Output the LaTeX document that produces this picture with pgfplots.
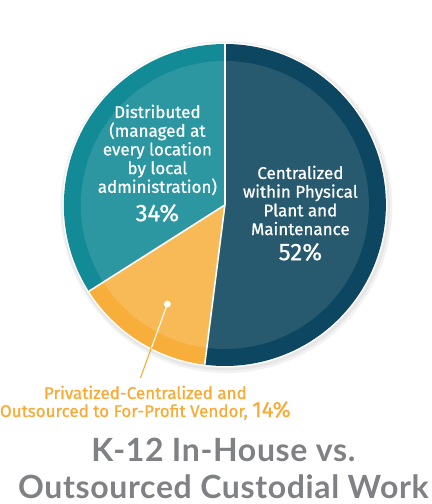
\documentclass[border=0pt]{standalone}
\usepackage{fontspec}
\usepackage{pgfplots}
\usepackage{pgfplotstable}
\pgfplotsset{compat=1.18}

\newfontfamily\labelfont{Fira Sans}[FakeBold=0.8]
\newfontfamily\titlefont{Lato}[LetterSpace=2]

\definecolor{darkrim}{HTML}{0D4660}
\definecolor{darkin}{HTML}{275A6F}
\definecolor{tealrim}{HTML}{138B97}
\definecolor{tealin}{HTML}{2C96A1}
\definecolor{orangerim}{HTML}{F8AE3B}
\definecolor{orangein}{HTML}{F8BA56}
\definecolor{labelorange}{HTML}{F8AA35}
\definecolor{titlegray}{HTML}{808184}

% shares of the pie, clockwise from 12 o'clock
\pgfplotstableread{
share
52
14
34
}\pie

\pgfplotstablegetelem{0}{share}\of\pie \let\sA\pgfplotsretval
\pgfplotstablegetelem{1}{share}\of\pie \let\sB\pgfplotsretval
\pgfplotstablegetelem{2}{share}\of\pie \let\sC\pgfplotsretval
\pgfmathsetmacro\tA{90}
\pgfmathsetmacro\tB{\tA-3.6*\sA}
\pgfmathsetmacro\tC{\tB-3.6*\sB}
\pgfmathsetmacro\tD{\tC-3.6*\sC}

% centre of the pie in axis units (1 unit = 1bp)
\def\cx{221.5}
\def\cy{299}
\newcommand\pieslice[4]{%
  \fill[#3] (axis cs:\cx,\cy) -- ++(#1:161bp) arc[start angle=#1, end angle=#2, radius=161bp] -- cycle;
  \fill[#4] (axis cs:\cx,\cy) -- ++(#1:144bp) arc[start angle=#1, end angle=#2, radius=144bp] -- cycle;
}

\begin{document}
\begin{tikzpicture}
\begin{axis}[
    width=428bp, height=504bp,
    scale only axis,
    xmin=0, xmax=428, ymin=0, ymax=504,
    enlargelimits=false,
    axis lines=none,
    clip=false,
]
\path (axis cs:0,0) rectangle (axis cs:428,504);

% soft shadow and white outline
\fill[black, opacity=0.05] (axis cs:\cx+1.5,\cy-2) circle[radius=166bp];
\fill[black, opacity=0.05] (axis cs:\cx+1,\cy-1.5) circle[radius=164bp];
\fill[white] (axis cs:\cx,\cy) circle[radius=162.5bp];

\pieslice{\tA}{\tB}{darkrim}{darkin}
\pieslice{\tB}{\tC}{orangerim}{orangein}
\pieslice{\tC}{\tD}{tealrim}{tealin}

\draw[white, line width=1.6bp] (axis cs:\cx,\cy) -- ++(\tA:161bp);
\draw[white, line width=1.6bp] (axis cs:\cx,\cy) -- ++(\tB:161bp);
\draw[white, line width=1.6bp] (axis cs:\cx,\cy) -- ++(\tC:161bp);

% leader line for the small slice
\addplot[labelorange, line width=1.1bp] coordinates {(147.9,155.8) (137,126)};
\addplot[white, line width=1.1bp] coordinates {(164,200) (147.9,155.8)};
\addplot[only marks, mark=*, mark size=3.2bp, white] coordinates {(164,200)};

% slice labels
\node[text=white, align=center, inner sep=0, font=\labelfont\fontsize{17bp}{18.7bp}\selectfont]
  at (axis cs:154,354) {Distributed\\(managed at\\every location\\by local\\administration)};
\node[text=white, inner sep=0, font=\labelfont\fontsize{24bp}{26bp}\selectfont]
  at (axis cs:154,291) {34\%};
\node[text=white, align=center, inner sep=0, font=\labelfont\fontsize{17bp}{18.7bp}\selectfont]
  at (axis cs:297,303.5) {Centralized\\within Physical\\Plant and\\Maintenance};
\node[text=white, inner sep=0, font=\labelfont\fontsize{24bp}{26bp}\selectfont]
  at (axis cs:297,252) {52\%};

\node[text=labelorange, anchor=base, inner sep=0, font=\labelfont\fontsize{17bp}{18bp}\selectfont]
  at (axis cs:142,105) {Privatized-Centralized and};
\node[text=labelorange, anchor=base, inner sep=0, font=\labelfont\fontsize{17bp}{18bp}\selectfont]
  at (axis cs:142,87) {Outsourced to For-Profit Vendor, {\fontsize{22bp}{22bp}\selectfont 14\%}};

% title
\node[text=titlegray, anchor=base, inner sep=0, font=\titlefont\bfseries\fontsize{32bp}{34bp}\selectfont]
  at (axis cs:220,42) {K-12 In-House vs.};
\node[text=titlegray, anchor=base, inner sep=0, font=\titlefont\bfseries\fontsize{32bp}{34bp}\selectfont]
  at (axis cs:220,6) {Outsourced Custodial Work};
\end{axis}
\end{tikzpicture}
\end{document}
